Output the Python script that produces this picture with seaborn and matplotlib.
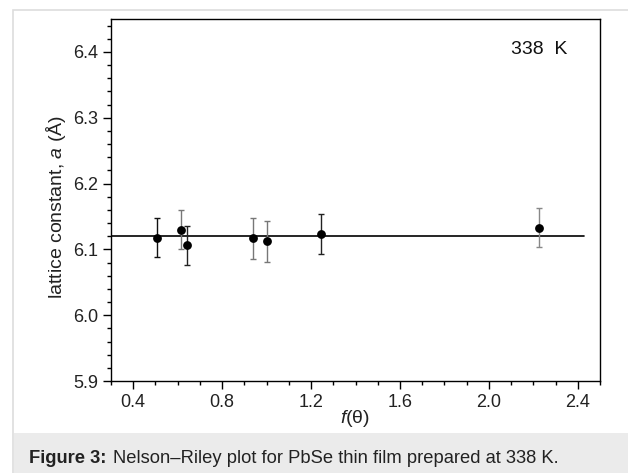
import matplotlib
matplotlib.use("Agg")
import matplotlib.pyplot as plt
from matplotlib.ticker import MultipleLocator
from matplotlib.patches import Rectangle
import seaborn as sns
import pandas as pd

# Nelson-Riley function values and lattice constants
f_theta = [0.508, 0.616, 0.643, 0.940, 1.002, 1.243, 2.225]
lattice_a = [6.118, 6.130, 6.106, 6.117, 6.112, 6.123, 6.133]
lattice_err = [0.030, 0.030, 0.030, 0.031, 0.031, 0.030, 0.030]
err_colors = ["#111111", "#777777", "#222222", "#777777", "#777777", "#222222", "#888888"]

# Extrapolated lattice constant (horizontal fit)
fit_x = [0.30, 2.43]
fit_a = [6.121, 6.121]

df = pd.DataFrame({"f": f_theta, "a": lattice_a})

sns.set_theme(style="white")
plt.rcParams["font.family"] = ["Liberation Sans", "DejaVu Sans"]
plt.rcParams["mathtext.fontset"] = "custom"
plt.rcParams["mathtext.it"] = "Liberation Sans:italic"
plt.rcParams["mathtext.rm"] = "Liberation Sans"

fig = plt.figure(figsize=(6.28, 4.73), dpi=100)

# page frame and caption band, kept behind the axes
fig.patches.append(Rectangle((13 / 628, -0.01), 1, 1.01 - 10 / 473, transform=fig.transFigure,
                             facecolor="white", edgecolor="#dddddd", linewidth=1.2, zorder=-2))
fig.patches.append(Rectangle((14 / 628, 0), 1, 40 / 473, transform=fig.transFigure,
                             facecolor="#ebebeb", edgecolor="none", zorder=-1))

ax = fig.add_axes([111 / 628, 1 - 381 / 473, (600 - 111) / 628, (381 - 19) / 473])
ax.set_zorder(2)
ax.set_facecolor("white")

sns.lineplot(x=fit_x, y=fit_a, ax=ax, color="black", linewidth=1.2, zorder=2)
for xv, yv, ev, c in zip(f_theta, lattice_a, lattice_err, err_colors):
    ax.errorbar(xv, yv, yerr=ev, fmt="none", ecolor=c, elinewidth=1.0,
                capsize=2.2, capthick=1.0, zorder=3)
sns.scatterplot(data=df, x="f", y="a", ax=ax, color="black", s=40,
                edgecolor="black", linewidth=0, zorder=4)

ax.set_xlim(0.30, 2.50)
ax.set_ylim(5.90, 6.45)
ax.xaxis.set_minor_locator(MultipleLocator(0.1))
ax.yaxis.set_minor_locator(MultipleLocator(0.02))
ax.set_xticks([0.4, 0.8, 1.2, 1.6, 2.0, 2.4])
ax.set_xticklabels(["0.4", "0.8", "1.2", "1.6", "2.0", "2.4"])
ax.set_yticks([5.9, 6.0, 6.1, 6.2, 6.3, 6.4])
ax.set_yticklabels(["5.9", "6.0", "6.1", "6.2", "6.3", "6.4"])

ax.tick_params(axis="both", which="major", direction="out", length=6, width=1,
               color="black", labelsize=13, labelcolor="#222222", pad=3,
               bottom=True, left=True)
ax.tick_params(axis="both", which="minor", direction="out", length=3, width=1,
               color="black", bottom=True, left=True)
for s in ax.spines.values():
    s.set_color("black")
    s.set_linewidth(1.0)

ax.set_xlabel(r"$f$(θ)", fontsize=14, color="#222222", labelpad=-2)
ax.set_ylabel(r"lattice constant, $a$ (Å)", fontsize=14, color="#222222")
ax.yaxis.set_label_coords(-0.088, 0.48)

ax.text(0.875, 0.915, "338  K", transform=ax.transAxes, fontsize=14,
        ha="center", va="center", color="#111111")

fig.text(29 / 628, 15 / 473, "Figure 3:", fontsize=13.2, fontweight="bold",
         color="#222222", va="center", ha="left")
fig.text(113 / 628, 15 / 473, "Nelson–Riley plot for PbSe thin film prepared at 338 K.",
         fontsize=13.2, color="#222222", va="center", ha="left")

fig.savefig("out.png", dpi=100)
